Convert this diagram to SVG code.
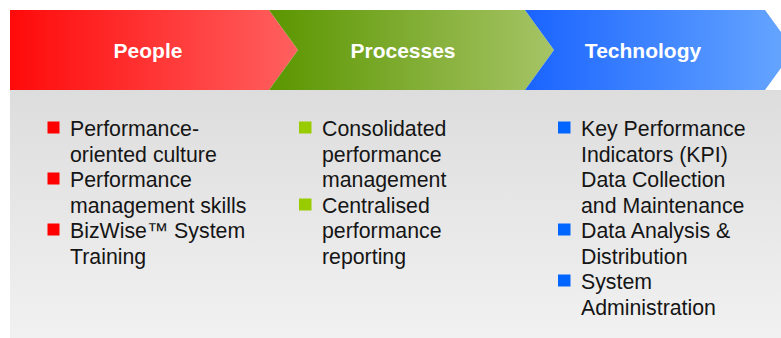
<svg xmlns="http://www.w3.org/2000/svg" width="781" height="338" viewBox="0 0 781 338">
<defs>
<linearGradient id="gRed" x1="10" y1="0" x2="298" y2="0" gradientUnits="userSpaceOnUse"><stop offset="0" stop-color="#ff0a0a"/><stop offset="1" stop-color="#ff6060"/></linearGradient>
<linearGradient id="gGreen" x1="269" y1="0" x2="554" y2="0" gradientUnits="userSpaceOnUse"><stop offset="0" stop-color="#5b9600"/><stop offset="1" stop-color="#a6c466"/></linearGradient>
<linearGradient id="gBlue" x1="525" y1="0" x2="781" y2="0" gradientUnits="userSpaceOnUse"><stop offset="0" stop-color="#1a64ff"/><stop offset="1" stop-color="#64a4ff"/></linearGradient>
<linearGradient id="gBg" x1="0" y1="90" x2="0" y2="338" gradientUnits="userSpaceOnUse"><stop offset="0" stop-color="#dddddd"/><stop offset="1" stop-color="#f1f1f1"/></linearGradient>
<style>
.hd{font-family:"Liberation Sans",Arial,sans-serif;font-weight:bold;font-size:21px;fill:#ffffff;text-anchor:middle}
.tx{font-family:"Liberation Sans",Arial,sans-serif;font-size:21.3px;fill:#151515}
</style>
</defs>
<rect x="10" y="90" width="771" height="248" fill="url(#gBg)"/>
<g id="people">
<polygon points="10,10 269,10 298,50 269,90 10,90" fill="url(#gRed)"/>
<text class="hd" x="148" y="58">People</text>
<g fill="#ff0000">
<rect x="47.5" y="121.5" width="12" height="12"/><rect x="47.5" y="172.5" width="12" height="12"/><rect x="47.5" y="223.5" width="12" height="12"/>
</g>
<text class="tx"><tspan x="70" y="136">Performance-</tspan><tspan x="70" y="161.5">oriented culture</tspan><tspan x="70" y="187">Performance</tspan><tspan x="70" y="212.5">management skills</tspan><tspan x="70" y="238">BizWise™ System</tspan><tspan x="70" y="263.5">Training</tspan></text>
</g>
<g id="processes">
<polygon points="269,10 525,10 554,50 525,90 269,90 298,50" fill="url(#gGreen)"/>
<text class="hd" x="403" y="58">Processes</text>
<g fill="#99cc00">
<rect x="299" y="121.5" width="12.5" height="12"/><rect x="299" y="198.5" width="12.5" height="12"/>
</g>
<text class="tx"><tspan x="322" y="136">Consolidated</tspan><tspan x="322" y="161.5">performance</tspan><tspan x="322" y="187">management</tspan><tspan x="322" y="212.5">Centralised</tspan><tspan x="322" y="238">performance</tspan><tspan x="322" y="263.5">reporting</tspan></text>
</g>
<g id="technology">
<polygon points="525,10 765,10 794,50 765,90 525,90 554,50" fill="url(#gBlue)"/>
<text class="hd" x="643" y="58">Technology</text>
<g fill="#0066ff">
<rect x="558" y="121.5" width="12.5" height="12"/><rect x="558" y="223.5" width="12.5" height="12"/><rect x="558" y="274.5" width="12.5" height="12"/>
</g>
<text class="tx"><tspan x="581" y="136">Key Performance</tspan><tspan x="581" y="161.5">Indicators (KPI)</tspan><tspan x="581" y="187">Data Collection</tspan><tspan x="581" y="212.5">and Maintenance</tspan><tspan x="581" y="238">Data Analysis &amp;</tspan><tspan x="581" y="263.5">Distribution</tspan><tspan x="581" y="289">System</tspan><tspan x="581" y="314.5">Administration</tspan></text>
</g>
<g id="connectors"/>
</svg>
